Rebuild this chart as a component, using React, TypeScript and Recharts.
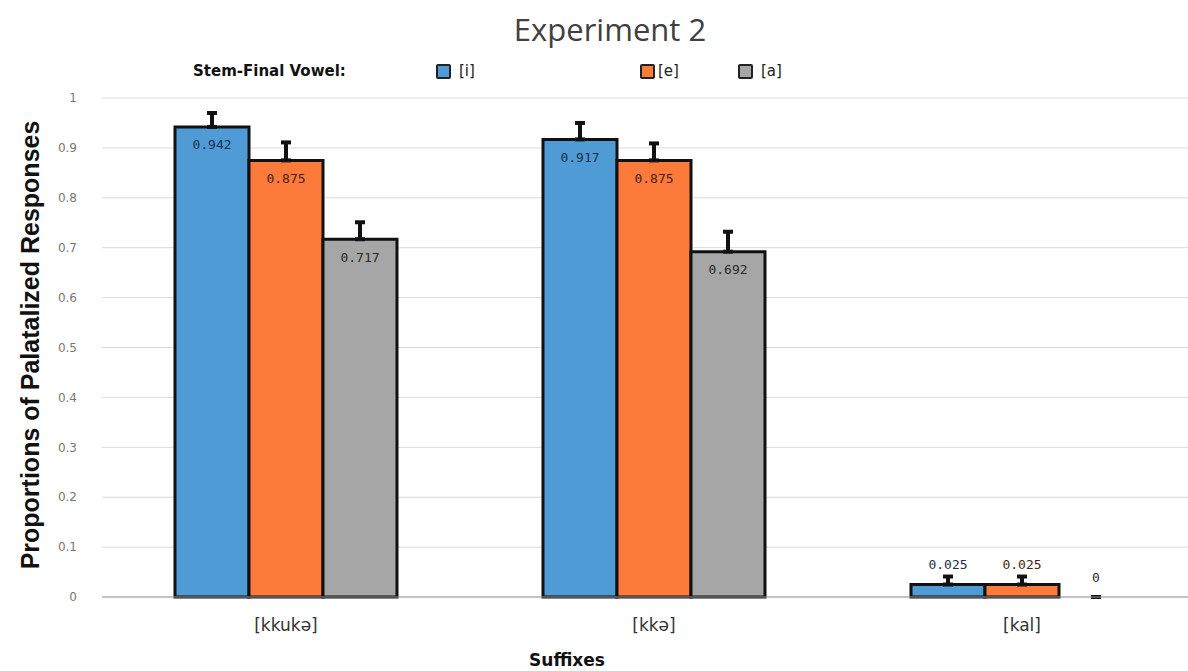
import React from "react";
import {
  Bar,
  BarChart,
  CartesianGrid,
  Cell,
  ErrorBar,
  LabelList,
  XAxis,
  YAxis,
} from "recharts";

// values
const categories = ["[kkukə]", "[kkə]", "[kal]"];
const iValues = [0.942, 0.917, 0.025];
const eValues = [0.875, 0.875, 0.025];
const aValues = [0.717, 0.692, 0];
const iErrors = [0.028, 0.033, 0.016];
const eErrors = [0.036, 0.034, 0.016];
const aErrors = [0.034, 0.04, 0];
const yTicks = [0, 0.1, 0.2, 0.3, 0.4, 0.5, 0.6, 0.7, 0.8, 0.9, 1];

const series = [
  { key: "i", label: "[i]", color: "#4E9BD6", text: "#1d2f4a" },
  { key: "e", label: "[e]", color: "#FC7B3B", text: "#4a1e10" },
  { key: "a", label: "[a]", color: "#A6A6A6", text: "#2a2a2a" },
];

const data = categories.map((name, i) => ({
  name,
  i: iValues[i],
  e: eValues[i],
  a: aValues[i],
  iErr: [0, iErrors[i]],
  eErr: [0, eErrors[i]],
  aErr: [0, aErrors[i]],
}));

const makeLabel = (fill: string) => (props: any) => {
  const { x, y, width, height, value } = props;
  const big = value > 0.1;
  // zero-valued bars get a 1px stub, so measure from the baseline
  const top = value === 0 ? y + height : y;
  return (
    <text
      x={x + width / 2}
      y={big ? top + 19 : top - 19}
      textAnchor="middle"
      dominantBaseline="middle"
      fontSize={13}
      fontFamily="'DejaVu Sans Mono', monospace"
      fill={fill}
    >
      {String(value)}
    </text>
  );
};

const App: React.FC = () => {
  return (
    <div
      style={{
        position: "absolute",
        left: 0,
        top: 0,
        width: 1188,
        height: 671,
        overflow: "hidden",
        background: "#fff",
      }}
    >
      <div
        style={{
          position: "absolute",
          top: 8,
          left: 410,
          width: 400,
          textAlign: "center",
          fontFamily: "'Open Sans', sans-serif",
          fontSize: 31,
          color: "#404040",
        }}
      >
        Experiment 2
      </div>

      <div
        style={{
          position: "absolute",
          top: 62,
          left: 193,
          fontFamily: "'DejaVu Sans', sans-serif",
          fontWeight: 700,
          fontSize: 15,
          color: "#111",
        }}
      >
        Stem-Final Vowel:
      </div>
      {series.map((s, idx) => (
        <div
          key={s.key}
          style={{
            position: "absolute",
            top: 62,
            left: [436, 640, 738][idx],
            display: "flex",
            alignItems: "center",
            fontFamily: "'DejaVu Sans', sans-serif",
            fontSize: 15,
            color: "#222",
          }}
        >
          <span
            style={{
              display: "inline-block",
              width: 11,
              height: 11,
              background: s.color,
              border: "2px solid #222",
              borderRadius: 2,
              marginRight: idx === 1 ? 3 : 8,
            }}
          />
          {s.label}
        </div>
      ))}

      <div
        style={{
          position: "absolute",
          left: 30,
          top: 345,
          transform: "translate(-50%, -50%) rotate(-90deg)",
          whiteSpace: "nowrap",
          fontFamily: "'Liberation Sans Narrow', 'Liberation Sans', sans-serif",
          fontWeight: 700,
          fontSize: 25,
          color: "#111",
        }}
      >
        Proportions of Palatalized Responses
      </div>

      <div
        style={{
          position: "absolute",
          top: 650,
          left: 367,
          width: 400,
          textAlign: "center",
          fontFamily: "'DejaVu Sans', sans-serif",
          fontWeight: 700,
          fontSize: 17,
          color: "#111",
        }}
      >
        Suffixes
      </div>

      <div style={{ position: "absolute", left: 0, top: 0 }}>
        <BarChart
          width={1260}
          height={671}
          data={data}
          margin={{ top: 98, right: 54, left: 42, bottom: 44 }}
          barCategoryGap={73}
          barGap={0}
        >
          <CartesianGrid vertical={false} stroke="#d9d9d9" />
          <XAxis
            dataKey="name"
            height={30}
            tickSize={0}
            tickMargin={22}
            axisLine={{ stroke: "#9a9a9a" }}
            tickLine={false}
            tick={{
              fontSize: 17,
              fontFamily: "'DejaVu Sans', sans-serif",
              fill: "#333",
            }}
          />
          <YAxis
            width={60}
            domain={[0, 1]}
            ticks={yTicks}
            tickFormatter={(v: number) => String(v)}
            axisLine={false}
            tickLine={false}
            tickSize={0}
            tickMargin={25}
            tick={{
              fontSize: 12,
              fontFamily: "'DejaVu Sans', sans-serif",
              fill: "#777",
            }}
          />
          {series.map((s) => (
            <Bar
              key={s.key}
              dataKey={s.key}
              fill={s.color}
              stroke="#111"
              strokeWidth={3}
              minPointSize={1}
              isAnimationActive={false}
            >
              {data.map((d, idx) => (
                <Cell
                  key={idx}
                  fill={(d as any)[s.key] === 0 ? "none" : s.color}
                  stroke={(d as any)[s.key] === 0 ? "none" : "#111"}
                />
              ))}
              <ErrorBar
                dataKey={`${s.key}Err`}
                direction="y"
                width={5}
                stroke="#111"
                strokeWidth={4}
                isAnimationActive={false}
              />
              <LabelList dataKey={s.key} content={makeLabel(s.text)} />
            </Bar>
          ))}
        </BarChart>
      </div>
    </div>
  );
};

export default App;
